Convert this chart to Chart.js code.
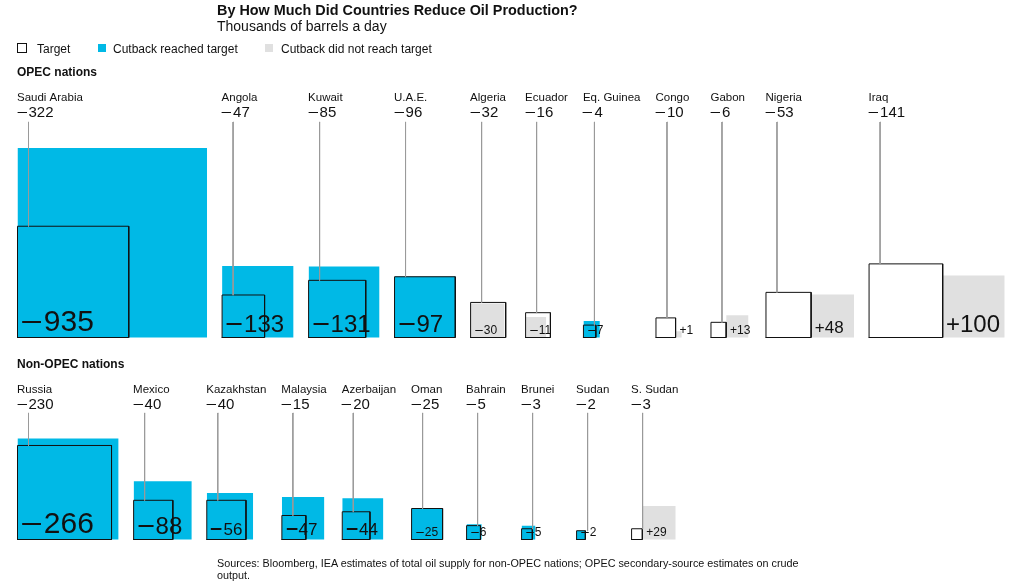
<!DOCTYPE html>
<html>
<head>
<meta charset="utf-8">
<script src="https://cdn.jsdelivr.net/npm/chart.js@4.4.1/dist/chart.umd.min.js"></script>
<style>
@font-face { font-family: 'WideMinus'; src: local('DejaVu Sans'), local('DejaVuSans'); unicode-range: U+2212; }
html, body { margin: 0; padding: 0; background: #fff; }
body { width: 1014px; height: 582px; position: relative; overflow: hidden;
       font-family: 'Liberation Sans', Arial, Helvetica, sans-serif; color: #111; }
#c { position: absolute; left: 0; top: 0; }
.t { position: absolute; white-space: nowrap; line-height: 1; }
.sw { position: absolute; box-sizing: border-box; }
</style>
</head>
<body>
<canvas id="c" width="1014" height="582"></canvas>
<div class="t" style="left:217px;top:2.5px;font-size:14.4px;font-weight:bold;">By How Much Did Countries Reduce Oil Production?</div>
<div class="t" style="left:217px;top:19px;font-size:14px;">Thousands of barrels a day</div>

<div class="sw" style="left:17px;top:43px;width:10px;height:10px;border:1px solid #111;background:#fff;"></div>
<div class="t" style="left:37px;top:42.5px;font-size:12px;">Target</div>
<div class="sw" style="left:98px;top:44px;width:8px;height:8px;background:#00b9e6;"></div>
<div class="t" style="left:113px;top:42.5px;font-size:12px;">Cutback reached target</div>
<div class="sw" style="left:265px;top:44px;width:8px;height:8px;background:#e0e0e0;"></div>
<div class="t" style="left:281px;top:42.5px;font-size:12px;">Cutback did not reach target</div>

<div class="t" style="left:17px;top:66px;font-size:12px;font-weight:bold;">OPEC nations</div>
<div class="t" style="left:17px;top:358px;font-size:12px;font-weight:bold;">Non-OPEC nations</div>

<div class="t" style="left:217px;top:557px;font-size:10.8px;line-height:12px;">Sources: Bloomberg, IEA estimates of total oil supply for non-OPEC nations; OPEC secondary-source estimates on crude<br>output.</div>

<script>
// ---------- DATA (thousands of barrels a day) ----------
const opecCountries = ['Saudi Arabia', 'Angola', 'Kuwait', 'U.A.E.', 'Algeria', 'Ecuador', 'Eq. Guinea', 'Congo', 'Gabon', 'Nigeria', 'Iraq'];
const opecTargets   = [-322, -47, -85, -96, -32, -16, -4, -10, -6, -53, -141];
const opecActual    = [-935, -133, -131, -97, -30, -11, -7, 1, 13, 48, 100];

const nonOpecCountries = ['Russia', 'Mexico', 'Kazakhstan', 'Malaysia', 'Azerbaijan', 'Oman', 'Bahrain', 'Brunei', 'Sudan', 'S. Sudan'];
const nonOpecTargets   = [-230, -40, -40, -15, -20, -25, -5, -3, -2, -3];
const nonOpecActual    = [-266, -88, -56, -47, -44, -25, -6, -5, -2, 29];

// ---------- STYLE / LAYOUT ----------
const W = 1014, H = 582;
const K = 6.2;                       // pixels per sqrt(thousand b/d): square area ~ value
const BLUE = '#00b9e6', GRAY = '#e0e0e0', INK = '#111111', LEAD = '#9a9a9a';
const LABEL_FONT = '11.5px "Liberation Sans", Arial, sans-serif';
const TARGET_FONT = '15px WideMinus, "Liberation Sans", Arial, sans-serif';
const valueFont = s => s + 'px WideMinus, "Liberation Sans", Arial, sans-serif';
const rows = [
  { names: opecCountries, targets: opecTargets, actual: opecActual, labelY: 101, valueY: 117, leadTop: 122, basePx: 337.5 },
  { names: nonOpecCountries, targets: nonOpecTargets, actual: nonOpecActual, labelY: 393, valueY: 409, leadTop: 413, basePx: 539.5 }
];
const START_X = 17.5, GAP = 15, MIN_COL = 55, LEAD_DX = 11;

const fmt = v => (v < 0 ? '\u2212' + Math.abs(v) : '+' + v);
const yU = px => (H - px) / K;

function build() {
  const m = document.createElement('canvas').getContext('2d');
  const items = [];
  const datasets = [];
  rows.forEach(row => {
    let xpx = START_X;
    row.names.forEach((name, i) => {
      const t = row.targets[i], a = row.actual[i];
      const tS = Math.sqrt(Math.abs(t)), aS = Math.sqrt(Math.abs(a));
      const left = xpx / K, base = yU(row.basePx);
      const cutX0 = a > 0 ? left + tS : left;
      const reached = a <= t;
      // cutback square
      datasets.push({
        data: [{ x: cutX0, y: base + aS }, { x: cutX0 + aS, y: base + aS }],
        fill: { value: base }, backgroundColor: reached ? BLUE : GRAY,
        borderColor: 'rgba(0,0,0,0)', borderWidth: 0, order: 3
      });
      // target outline
      datasets.push({
        data: [{ x: left, y: base }, { x: left, y: base + tS }, { x: left + tS, y: base + tS }, { x: left + tS, y: base }, { x: left, y: base }],
        fill: false, borderColor: INK, borderWidth: 1, order: 2
      });
      // leader line
      const lx = left + LEAD_DX / K;
      datasets.push({
        data: [{ x: lx, y: yU(row.leadTop) }, { x: lx, y: base + tS }],
        fill: false, borderColor: LEAD, borderWidth: 1, order: 1
      });
      items.push({ name, t, a, left, base, cutX0, aS, row });
      // column width
      m.font = LABEL_FONT; const lw = m.measureText(name).width;
      m.font = TARGET_FONT; const vw = m.measureText(fmt(t)).width;
      const sw = (a > 0 ? tS + aS : Math.max(tS, aS)) * K;
      xpx += Math.max(MIN_COL, Math.max(lw, vw, sw) + GAP);
    });
  });
  return { items, datasets };
}

function init() {
  const { items, datasets } = build();
  const labelPlugin = {
    id: 'labels',
    afterDatasetsDraw(chart) {
      const ctx = chart.ctx, xs = chart.scales.x, ys = chart.scales.y;
      ctx.save();
      ctx.fillStyle = INK; ctx.textAlign = 'left'; ctx.textBaseline = 'alphabetic';
      items.forEach(it => {
        const lx = xs.getPixelForValue(it.left) - 0.5;
        ctx.font = LABEL_FONT;
        ctx.fillText(it.name, lx, it.row.labelY);
        ctx.font = TARGET_FONT;
        ctx.fillText(fmt(it.t), lx - 1.5, it.row.valueY);
        const sidePx = it.aS * K;
        const size = sidePx >= 90 ? 30 : sidePx >= 55 ? 24 : sidePx >= 40 ? 17 : 12;
        ctx.font = valueFont(size);
        const cx = xs.getPixelForValue(it.cutX0) - 0.5;
        const bx = cx + (it.a < 0 ? 5 - 0.106 * size : 5 - 0.05 * size);
        const by = ys.getPixelForValue(it.base) + 0.5 - (1.5 + 0.18 * size);
        ctx.fillText(fmt(it.a), bx, by);
      });
      ctx.restore();
    }
  };
  new Chart(document.getElementById('c'), {
    type: 'line',
    data: { datasets },
    options: {
      responsive: false, animation: false, events: [],
      layout: { padding: 0 },
      plugins: { legend: { display: false }, tooltip: { enabled: false }, title: { display: false } },
      elements: {
        point: { radius: 0, hoverRadius: 0 },
        line: { tension: 0, borderJoinStyle: 'miter', borderCapStyle: 'square' }
      },
      scales: {
        x: { type: 'linear', display: false, min: 0, max: W / K },
        y: { type: 'linear', display: false, min: 0, max: H / K }
      }
    },
    plugins: [labelPlugin]
  });
}

(document.fonts && document.fonts.load
  ? Promise.all([document.fonts.load('15px WideMinus', '\u2212'), document.fonts.load('11px "Liberation Sans"')]).catch(() => {})
  : Promise.resolve()).then(init, init);
</script>
</body>
</html>
